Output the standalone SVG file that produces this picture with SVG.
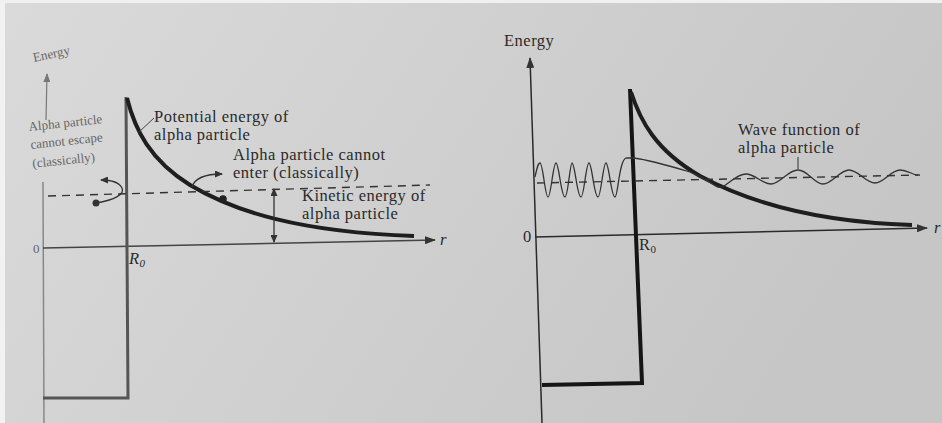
<svg xmlns="http://www.w3.org/2000/svg" width="942" height="423" viewBox="0 0 942 423">
<defs>
<linearGradient id="bg" x1="0" y1="0" x2="1" y2="0.3">
<stop offset="0" stop-color="#dadada"/>
<stop offset="0.5" stop-color="#d0d0d0"/>
<stop offset="1" stop-color="#c6c6c6"/>
</linearGradient>
<marker id="ah" markerUnits="userSpaceOnUse" markerWidth="12" markerHeight="8" refX="10" refY="4" orient="auto-start-reverse">
<path d="M0,0 L11,4 L0,8 z" fill="#333"/>
</marker>
<marker id="ahs" markerUnits="userSpaceOnUse" markerWidth="8" markerHeight="7" refX="7" refY="3.5" orient="auto-start-reverse">
<path d="M0,0 L8,3.5 L0,7 z" fill="#333"/>
</marker>
<marker id="ahl" markerUnits="userSpaceOnUse" markerWidth="9" markerHeight="7" refX="8" refY="3.5" orient="auto-start-reverse">
<path d="M0,0 L9,3.5 L0,7 z" fill="#777"/>
</marker>
</defs>
<style>
.t{font-family:"Liberation Serif","DejaVu Serif",serif;fill:#2a2a2a;font-size:16.5px;letter-spacing:0.5px}
.tl{font-family:"Liberation Serif","DejaVu Serif",serif;fill:#666;font-size:13px}
.thin{fill:none;stroke:#333;stroke-width:1.3}
.dash{fill:none;stroke:#333;stroke-width:1.4;stroke-dasharray:8 6}
.pot{fill:none;stroke:#1e1e1e;stroke-width:4;stroke-linecap:butt}
</style>
<rect width="942" height="423" fill="url(#bg)"/>
<rect x="0" y="0" width="5" height="423" fill="#f2f2f2"/>
<rect x="0" y="0" width="942" height="3" fill="#f0f0f0"/>

<!-- LEFT DIAGRAM -->
<g id="left-axes">
<line x1="43" y1="182" x2="44" y2="423" stroke="#888" stroke-width="1.5"/>
<line x1="43" y1="248" x2="435" y2="240" stroke="#444" stroke-width="1.5" marker-end="url(#ah)"/>
<line x1="46" y1="120" x2="47" y2="74" stroke="#777" stroke-width="1.2" marker-end="url(#ahl)"/>
<text class="tl" x="34" y="62" font-size="9.5" transform="rotate(-12 34 62)">Energy</text>
<text class="tl" x="33" y="253" font-size="13">0</text>
<text class="t" x="440" y="245" font-size="14" font-style="italic">r</text>
</g>
<g id="left-well">
<path d="M126,97 L128,398 L43,398" fill="none" stroke="#555" stroke-width="3"/>
<text class="t" x="129" y="264" font-size="15" font-style="italic" fill="#555">R<tspan font-size="11" dy="3">0</tspan></text>
</g>
<g id="left-potential">
<path class="pot" d="M127,98 C135,130 150,160 190,185 C235,212 300,232 414,236"/>
<text class="t" x="154" y="122">Potential energy of</text>
<text class="t" x="154" y="140">alpha particle</text>
</g>
<g id="left-kinetic">
<line class="dash" x1="48" y1="196" x2="430" y2="185"/>
<text class="t" x="302" y="201">Kinetic energy of</text>
<text class="t" x="302" y="219">alpha particle</text>
</g>
<g id="left-escape-label">
<text class="tl" transform="rotate(-6 29 131)"><tspan x="29" y="131">Alpha particle</tspan><tspan x="29" y="149">cannot escape</tspan><tspan x="29" y="168">(classically)</tspan></text>
</g>
<g id="left-enter-label">
<text class="t" x="233" y="160">Alpha particle cannot</text>
<text class="t" x="233" y="178">enter (classically)</text>
</g>
<g id="particles">
<circle cx="96" cy="203" r="3.5" fill="#333"/>
<circle cx="223" cy="199" r="3.8" fill="#222"/>
</g>
<g id="connectors">
<line x1="154" y1="118" x2="139" y2="132" stroke="#444" stroke-width="1"/>
<path class="thin" d="M96,203 C115,200 125,194 122,188 C119,182 112,180 101,180" marker-end="url(#ahs)"/>
<path class="thin" d="M192,187 Q196,174 222,174" marker-end="url(#ahs)"/>
<line class="thin" x1="274" y1="189" x2="274" y2="242" marker-start="url(#ahs)" marker-end="url(#ahs)"/>
<line x1="798" y1="157" x2="798" y2="169" stroke="#333" stroke-width="1"/>
</g>

<!-- RIGHT DIAGRAM -->
<g id="right-axes">
<line x1="542" y1="423" x2="530" y2="58" stroke="#2a2a2a" stroke-width="1.5" marker-end="url(#ah)"/>
<line x1="535" y1="237" x2="927" y2="228" stroke="#2a2a2a" stroke-width="1.5" marker-end="url(#ah)"/>
<text class="t" x="504" y="46" font-size="16.5">Energy</text>
<text class="t" x="523" y="242" font-size="15">0</text>
<text class="t" x="934" y="233" font-size="14" font-style="italic">r</text>
</g>
<g id="right-well">
<path d="M630,89 L642,383 L542,385" fill="none" stroke="#151515" stroke-width="4"/>
<text class="t" x="639" y="250" font-size="15">R<tspan font-size="11" dy="3">0</tspan></text>
</g>
<g id="right-potential">
<path class="pot" d="M631,92 C640,120 655,150 700,176 C750,203 820,222 912,225"/>
</g>
<g id="right-energy">
<line class="dash" x1="537" y1="183" x2="920" y2="175"/>
</g>
<g id="wave-function">
<path class="thin" d="M535,177 C537,168 538,163 540,163 C543,163 545,197 548,197 C551,197 553,163 556,163 C559,163 561,197 565,197 C568,197 570,163 572,163 C575,163 577,197 581,197 C584,197 586,163 589,163 C592,163 594,197 598,197 C601,197 603,163 606,163 C609,163 611,197 615,197 C618,197 619,160 626,158 L634,158 C650,160 670,166 690,172 C700,176 708,181 714,185 C718,188 720,188 724,186 C732,181 738,174 746,174 C755,174 762,184 771,184 C780,184 788,170 798,170 C808,170 814,184 823,184 C832,184 840,170 849,170 C858,170 866,183 875,183 C884,183 891,170 900,170 C908,170 912,175 918,175"/>
<text class="t" x="738" y="135" font-size="15.5">Wave function of</text>
<text class="t" x="738" y="153" font-size="15.5">alpha particle</text>
</g>
</svg>
